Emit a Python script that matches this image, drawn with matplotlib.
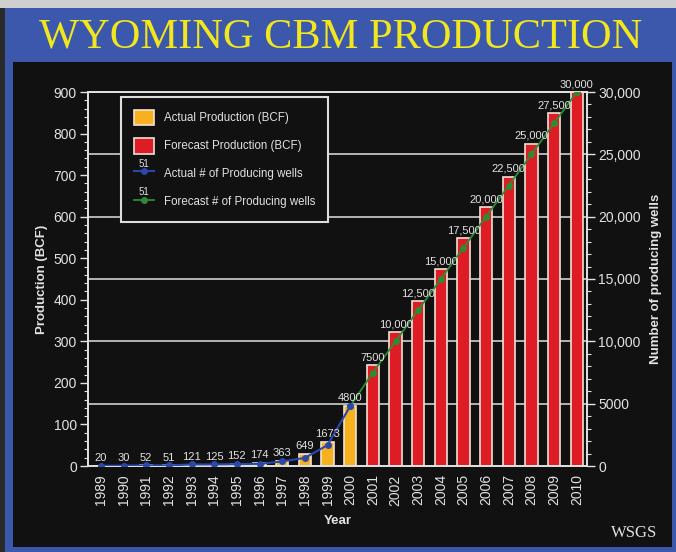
import matplotlib.pyplot as plt
import numpy as np
from matplotlib.patches import Rectangle, Patch
from matplotlib.lines import Line2D
from matplotlib.text import Text
from matplotlib.legend_handler import HandlerLine2D
from matplotlib.ticker import MultipleLocator, FuncFormatter

plt.rcParams['font.family'] = ['Liberation Sans', 'DejaVu Sans']

# Data
actual_years = list(range(1989, 2001))
actual_prod = [0.5, 1, 1.5, 1.5, 2, 3, 4, 7, 12, 29, 58, 145]
actual_wells = [20, 30, 52, 51, 121, 125, 152, 174, 363, 649, 1673, 4800]

forecast_years = list(range(2001, 2011))
forecast_prod = [242, 322, 396, 474, 549, 623, 696, 776, 850, 900]
forecast_line_years = list(range(2000, 2011))
forecast_wells = [4800, 7500, 10000, 12500, 15000, 17500, 20000, 22500, 25000, 27500, 30000]

all_years = actual_years + forecast_years

# colours
blue_frame = '#3b58ad'
panel = '#111111'
txt = '#e2e2e2'
orange = '#f7b11e'
red = '#de1c26'
edge = '#efe3d6'
line_blue = '#2a48a8'
line_green = '#2e8b34'


def fmt_wells(v):
    return f'{v:,.0f}' if v >= 10000 else f'{v:.0f}'


class HandlerWellLine(HandlerLine2D):
    # line legend entry with the little "51" sample label above it
    def create_artists(self, legend, orig_handle, xdescent, ydescent,
                       width, height, fontsize, trans):
        artists = super().create_artists(legend, orig_handle, xdescent, ydescent,
                                         width, height, fontsize, trans)
        cx = -xdescent + width / 2
        cy = (height - ydescent) / 2
        t = Text(cx, cy + 1.5, '51', ha='center', va='bottom', color=txt,
                 fontsize=fontsize * 0.85, transform=trans)
        return list(artists) + [t]


fig = plt.figure(figsize=(6.76, 5.52), dpi=100)
fig.patch.set_facecolor(blue_frame)

# outer frame pieces
fig.patches.append(Rectangle((0, 1 - 8 / 552), 1, 8 / 552, transform=fig.transFigure,
                             facecolor='#cfcfcf', edgecolor='none', zorder=-5))
fig.patches.append(Rectangle((0, 0), 5 / 676, 1 - 8 / 552, transform=fig.transFigure,
                             facecolor='#2a2a2a', edgecolor='none', zorder=-5))
fig.patches.append(Rectangle((13 / 676, 5 / 552), 659 / 676, 485 / 552,
                             transform=fig.transFigure, facecolor=panel,
                             edgecolor='none', zorder=-5))

fig.text(341 / 676, 1 - 37 / 552, 'WYOMING CBM PRODUCTION', ha='center', va='center',
         fontsize=30.5, color='#f2e61c', family='Liberation Serif')
fig.text(634 / 676, 1 - 533 / 552, 'WSGS', ha='center', va='center',
         fontsize=12, color=txt, family='Liberation Serif')

ax = fig.add_axes([88 / 676, 1 - 466 / 552, 499 / 676, 374 / 552])
ax.set_facecolor(panel)
ax2 = ax.twinx()

bar_w = 0.55
ax.bar(actual_years, actual_prod, width=bar_w, color=orange, edgecolor=edge,
       linewidth=1.2, zorder=2)
ax.bar(forecast_years, forecast_prod, width=bar_w, color=red, edgecolor=edge,
       linewidth=1.2, zorder=2)

# horizontal guide lines at the right-axis major ticks
for v in range(150, 901, 150):
    ax.axhline(v, color='#cfcfcf', lw=1.2, zorder=1)

ax.set_xlim(1988.43, 2010.45)
ax.set_ylim(0, 900)
ax2.set_ylim(0, 30000)

ax2.plot(forecast_line_years, forecast_wells, color=line_green, lw=1.3,
         marker='o', ms=4, zorder=4)
ax2.plot(actual_years, actual_wells, color=line_blue, lw=1.5,
         marker='o', ms=4, zorder=4)

# well count labels above each bar / point
prod_all = actual_prod + forecast_prod
wells_all = actual_wells + forecast_wells[1:]
for yr, p, w in zip(all_years, prod_all, wells_all):
    top = max(p / 900 * 30000, w)
    ax2.annotate(fmt_wells(w), (yr, top), xytext=(0, 2), textcoords='offset points',
                 ha='center', va='bottom', fontsize=8, color=txt, zorder=5)

ax.set_xticks(all_years)
ax.set_xticklabels([str(y) for y in all_years], rotation=90)
ax.yaxis.set_major_locator(MultipleLocator(100))
ax.yaxis.set_minor_locator(MultipleLocator(20))
ax2.yaxis.set_major_locator(MultipleLocator(5000))
ax2.yaxis.set_minor_locator(MultipleLocator(1000))
ax2.yaxis.set_major_formatter(FuncFormatter(lambda v, p: fmt_wells(v)))

for a in (ax, ax2):
    a.tick_params(axis='both', which='major', colors=txt, labelcolor=txt,
                  labelsize=10, length=6, width=1)
    a.tick_params(axis='y', which='major', pad=2)
    a.tick_params(axis='y', which='minor', colors=txt, length=3, width=0.8)
    for s in a.spines.values():
        s.set_color(txt)
        s.set_linewidth(1.2)
ax.tick_params(axis='x', length=0, pad=6)

ax.set_xlabel('Year', color=txt, fontsize=9.5, fontweight='bold', labelpad=7)
ax.set_ylabel('Production (BCF)', color=txt, fontsize=9.5, fontweight='bold', labelpad=4)
ax2.set_ylabel('Number of producing wells', color=txt, fontsize=9.5,
               fontweight='bold', labelpad=7)

handles = [
    Patch(facecolor=orange, edgecolor=edge, linewidth=1.2),
    Patch(facecolor=red, edgecolor=edge, linewidth=1.2),
    Line2D([], [], color=line_blue, lw=1.5, marker='o', ms=4),
    Line2D([], [], color=line_green, lw=1.3, marker='o', ms=4),
]
labels = ['Actual Production (BCF)', 'Forecast Production (BCF)',
          'Actual # of Producing wells', 'Forecast # of Producing wells']
leg = ax2.legend(handles, labels, loc='upper left', bbox_to_anchor=(0.066, 0.987),
                 borderaxespad=0, fancybox=False, facecolor=panel, edgecolor='#dddddd',
                 framealpha=1, fontsize=8.3, labelcolor=txt, handlelength=1.75,
                 handleheight=1.75, labelspacing=1.05, borderpad=1.1, handletextpad=0.9,
                 handler_map={Line2D: HandlerWellLine()})
leg.get_frame().set_linewidth(1.5)
leg.set_zorder(10)

fig.savefig('out.png', dpi=100, facecolor=fig.get_facecolor())
